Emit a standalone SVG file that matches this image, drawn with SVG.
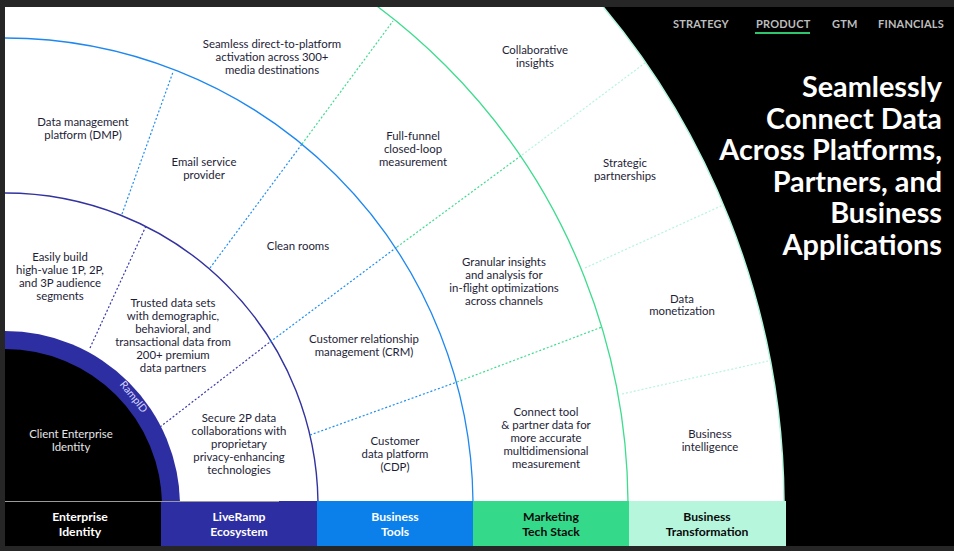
<svg xmlns="http://www.w3.org/2000/svg" width="954" height="551" viewBox="0 0 954 551">
<defs>
<clipPath id="fanClip"><rect x="5" y="7" width="949" height="494"/></clipPath>
<style>
.t{font-family:Lato,"Liberation Sans",sans-serif;font-size:11.4px;fill:#1e1e38;text-anchor:middle}
.w{fill:#e6e6e6}
.b{font-family:Lato,"Liberation Sans",sans-serif;font-size:12.2px;font-weight:700;text-anchor:middle}
.nav{font-family:Lato,"Liberation Sans",sans-serif;font-size:11px;font-weight:700;fill:#bdbdbd;letter-spacing:0.2px}
.ttl{font-family:Lato,"Liberation Sans",sans-serif;font-size:28.8px;font-weight:700;fill:#ffffff;text-anchor:end}
.d{fill:none;stroke-width:1.2;stroke-dasharray:2 2}
.di{stroke:#3a3aaa}.db{stroke:#1f8ef1}.dg{stroke:#3ddc8e}.dm{stroke:#b5f5dc}
</style>
</defs>
<rect x="0" y="0" width="954" height="551" fill="#262626"/>
<rect x="5" y="7" width="949" height="539" fill="#000000"/>
<g id="fan" clip-path="url(#fanClip)">
<circle cx="5" cy="506" r="779" fill="#ffffff" stroke="#b5f5dc" stroke-width="1.5"/>
<circle cx="5" cy="506" r="623" fill="none" stroke="#3ddc8e" stroke-width="1.3"/>
<circle cx="5" cy="506" r="468" fill="none" stroke="#1e88f0" stroke-width="1.3"/>
<circle cx="5" cy="506" r="313" fill="none" stroke="#3232a0" stroke-width="1.4"/>
<circle cx="5" cy="506" r="175" fill="#2e2ea3"/>
<circle cx="5" cy="506" r="157" fill="#000000"/>
</g>
<g id="connectors">
<line class="d di" x1="90" y1="348" x2="146" y2="226"/>
<line class="d di" x1="160" y1="427" x2="270" y2="342"/>
<line class="d db" x1="122" y1="214" x2="173" y2="72"/>
<line class="d db" x1="210" y1="268" x2="302" y2="144"/>
<line class="d db" x1="270" y1="342" x2="397" y2="247"/>
<line class="d db" x1="310" y1="435" x2="457" y2="382"/>
<line class="d dg" x1="302" y1="144" x2="393" y2="21"/>
<line class="d dg" x1="397" y1="247" x2="522" y2="155"/>
<line class="d dg" x1="457" y1="382" x2="602" y2="327"/>
<line class="d dm" x1="522" y1="155" x2="645" y2="63"/>
<line class="d dm" x1="585" y1="268" x2="723" y2="205"/>
<line class="d dm" x1="622" y1="394" x2="768" y2="361"/>
</g>
<g id="core">
<text class="t w" x="71" y="438">Client Enterprise</text>
<text class="t w" x="71" y="451">Identity</text>
<text font-family="Lato,'Liberation Sans',sans-serif" font-size="10.5" fill="#d8d8ff" text-anchor="middle" transform="translate(131,399) rotate(51)">RampID</text>
</g>
<g id="n-easily"><text class="t" x="60" y="261">Easily build</text><text class="t" x="60" y="274">high-value 1P, 2P,</text><text class="t" x="60" y="287">and 3P audience</text><text class="t" x="60" y="300">segments</text></g>
<g id="n-trusted"><text class="t" x="173" y="307">Trusted data sets</text><text class="t" x="173" y="320">with demographic,</text><text class="t" x="173" y="333">behavioral, and</text><text class="t" x="173" y="346">transactional data from</text><text class="t" x="173" y="359">200+ premium</text><text class="t" x="173" y="372">data partners</text></g>
<g id="n-secure"><text class="t" x="239" y="422">Secure 2P data</text><text class="t" x="239" y="435">collaborations with</text><text class="t" x="239" y="448">proprietary</text><text class="t" x="239" y="461">privacy-enhancing</text><text class="t" x="239" y="474">technologies</text></g>
<g id="n-dmp"><text class="t" x="83" y="126">Data management</text><text class="t" x="83" y="139">platform (DMP)</text></g>
<g id="n-email"><text class="t" x="204" y="166">Email service</text><text class="t" x="204" y="179">provider</text></g>
<g id="n-clean"><text class="t" x="298" y="250">Clean rooms</text></g>
<g id="n-crm"><text class="t" x="364" y="343">Customer relationship</text><text class="t" x="364" y="356">management (CRM)</text></g>
<g id="n-cdp"><text class="t" x="395" y="445">Customer</text><text class="t" x="395" y="458">data platform</text><text class="t" x="395" y="471">(CDP)</text></g>
<g id="n-seamless"><text class="t" x="272" y="48">Seamless direct-to-platform</text><text class="t" x="272" y="61">activation across 300+</text><text class="t" x="272" y="74">media destinations</text></g>
<g id="n-funnel"><text class="t" x="413" y="140">Full-funnel</text><text class="t" x="413" y="153">closed-loop</text><text class="t" x="413" y="166">measurement</text></g>
<g id="n-granular"><text class="t" x="504" y="266">Granular insights</text><text class="t" x="504" y="279">and analysis for</text><text class="t" x="504" y="292">in-flight optimizations</text><text class="t" x="504" y="305">across channels</text></g>
<g id="n-connect"><text class="t" x="546" y="416">Connect tool</text><text class="t" x="546" y="429">&amp; partner data for</text><text class="t" x="546" y="442">more accurate</text><text class="t" x="546" y="455">multidimensional</text><text class="t" x="546" y="468">measurement</text></g>
<g id="n-collab"><text class="t" x="535" y="54">Collaborative</text><text class="t" x="535" y="67">insights</text></g>
<g id="n-strategic"><text class="t" x="625" y="167">Strategic</text><text class="t" x="625" y="180">partnerships</text></g>
<g id="n-monet"><text class="t" x="682" y="303">Data</text><text class="t" x="682" y="315">monetization</text></g>
<g id="n-bi"><text class="t" x="710" y="438">Business</text><text class="t" x="710" y="451">intelligence</text></g>
<g id="bands">
<rect x="5" y="501" width="156" height="45" fill="#000000"/>
<rect x="161" y="501" width="156" height="45" fill="#2e2ea3"/>
<rect x="317" y="501" width="156" height="45" fill="#0b7fea"/>
<rect x="473" y="501" width="156" height="45" fill="#34d98a"/>
<rect x="629" y="501" width="157" height="45" fill="#b5f6dc"/>
<line x1="5" y1="501.5" x2="279" y2="501.5" stroke="#9a9a9a" stroke-width="1"/>
<text class="b" fill="#ffffff" x="80" y="521">Enterprise</text><text class="b" fill="#ffffff" x="80" y="536">Identity</text>
<text class="b" fill="#ffffff" x="239" y="521">LiveRamp</text><text class="b" fill="#ffffff" x="239" y="536">Ecosystem</text>
<text class="b" fill="#ffffff" x="395" y="521">Business</text><text class="b" fill="#ffffff" x="395" y="536">Tools</text>
<text class="b" fill="#0a0a0a" x="551" y="521">Marketing</text><text class="b" fill="#0a0a0a" x="551" y="536">Tech Stack</text>
<text class="b" fill="#0a0a0a" x="707" y="521">Business</text><text class="b" fill="#0a0a0a" x="707" y="536">Transformation</text>
</g>
<g id="nav">
<text class="nav" x="673" y="28">STRATEGY</text>
<text class="nav" x="756" y="28" fill="#ececec">PRODUCT</text>
<rect x="755" y="32" width="55" height="2" fill="#2fc46e"/>
<text class="nav" x="832" y="28">GTM</text>
<text class="nav" x="878" y="28">FINANCIALS</text>
</g>
<g id="title">
<text class="ttl" x="942" y="97">Seamlessly</text>
<text class="ttl" x="942" y="129">Connect Data</text>
<text class="ttl" x="942" y="160">Across Platforms,</text>
<text class="ttl" x="942" y="192">Partners, and</text>
<text class="ttl" x="942" y="223">Business</text>
<text class="ttl" x="942" y="255">Applications</text>
</g>
</svg>
